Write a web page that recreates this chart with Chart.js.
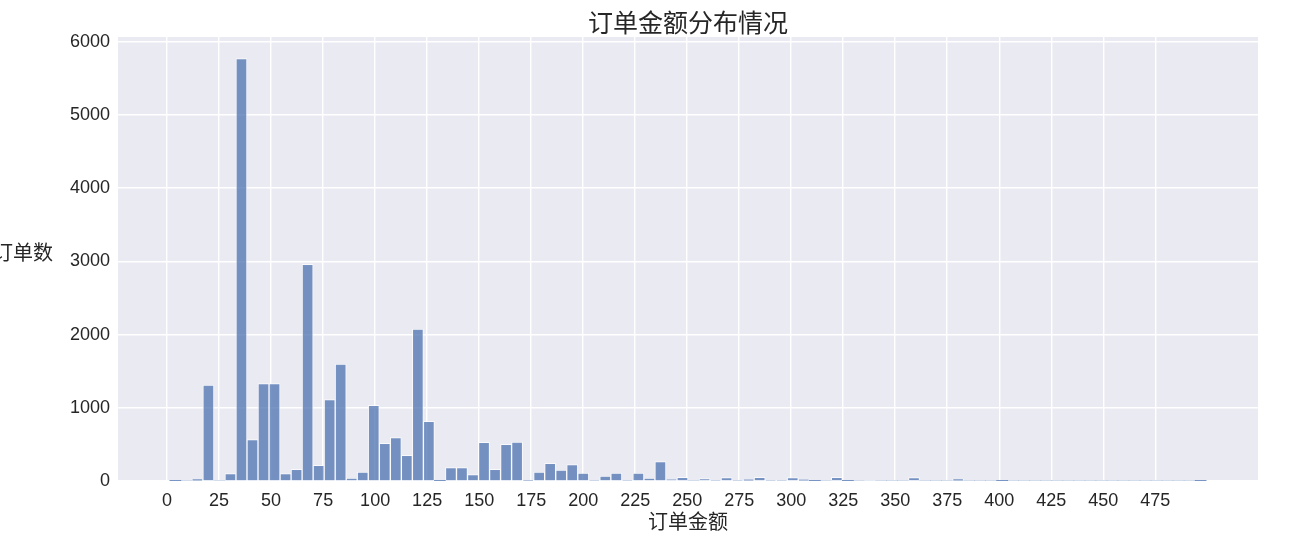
<!DOCTYPE html>
<html>
<head>
<meta charset="utf-8">
<script src="https://cdn.jsdelivr.net/npm/chart.js@4.4.0/dist/chart.umd.min.js"></script>
<style>
  html, body { margin: 0; padding: 0; background: #fff; }
  #wrap { width: 1289px; height: 555px; position: relative; }
</style>
</head>
<body>
<div id="wrap"><canvas id="histChart"></canvas></div>
<script>
// histogram bins: first edge and width of each bin (order amount)
const binStart = 1.3;
const binWidth = 5.3;
// order counts per bin
const binCounts = [
  1, 0, 27, 1309, 0, 101, 5770, 566, 1332, 1332,
  101, 160, 2959, 215, 1113, 1596, 40, 123, 1035, 515,
  593, 351, 2074, 816, 3, 183, 183, 87, 529, 160,
  502, 533, 5, 121, 242, 150, 224, 109, 8, 68,
  109, 8, 109, 41, 265, 23, 50, 0, 32, 8,
  46, 8, 22, 50, 8, 8, 46, 20, 3, 0,
  50, 2, 0, 12, 0, 0, 0, 46, 0, 0,
  0, 27, 0, 0, 0, 3, 0, 0, 0, 0,
  0, 0, 0, 0, 0, 0, 0, 0, 0, 0,
  0, 0, 0, 1
];
const xTickValues = [0, 25, 50, 75, 100, 125, 150, 175, 200, 225, 250, 275, 300, 325, 350, 375, 400, 425, 450, 475];
const yTickValues = [0, 1000, 2000, 3000, 4000, 5000, 6000];

const titleText = '订单金额分布情况';
const xLabel = '订单金额';
const yLabel = '订单数';

const latinFont = "'Liberation Sans', 'Noto Sans CJK SC', sans-serif";
const cjkFont = "'Noto Sans CJK SC', 'Liberation Sans', sans-serif";

const points = binCounts.map((c, i) => ({ x: binStart + binWidth * (i + 0.5), y: c }));
const binEnd = binStart + binWidth * binCounts.length;
const margin = (binEnd - binStart) * 0.05;

// draws the plot background, the title and the horizontal y label
const extrasPlugin = {
    id: 'extras',
    beforeDraw(chart) {
        const { ctx, chartArea: a } = chart;
        ctx.save();
        ctx.fillStyle = '#EAEAF2';
        ctx.fillRect(a.left, a.top, a.right - a.left, a.bottom - a.top);
        ctx.restore();
    },
    afterDraw(chart) {
        const { ctx, chartArea: a } = chart;
        ctx.save();
        ctx.fillStyle = '#262626';
        ctx.font = '25px ' + cjkFont;
        ctx.textAlign = 'center';
        ctx.textBaseline = 'middle';
        ctx.fillText(titleText, (a.left + a.right) / 2, 22);

        ctx.font = '20px ' + cjkFont;
        ctx.textAlign = 'right';
        ctx.fillText(yLabel, 53, 252);
        ctx.restore();
    }
};

const ctx = document.getElementById('histChart').getContext('2d');
const histChart = new Chart(ctx, {
    type: 'bar',
    data: {
        datasets: [{
            data: points,
            backgroundColor: 'rgba(76, 114, 176, 0.75)',
            borderColor: 'rgba(255, 255, 255, 0.7)',
            borderWidth: c => (c.raw && c.raw.y >= 5 ? 1 : 0),
            barPercentage: 1,
            categoryPercentage: 1
        }]
    },
    options: {
        responsive: true,
        maintainAspectRatio: false,
        animation: false,
        layout: {
            padding: { top: 37, left: 0, right: 31, bottom: 0 }
        },
        scales: {
            x: {
                type: 'linear',
                offset: false,
                min: binStart - margin,
                max: binEnd + margin,
                afterBuildTicks: scale => {
                    scale.ticks = xTickValues.map(v => ({ value: v }));
                },
                afterFit: scale => { scale.height = 74; },
                grid: {
                    offset: false,
                    color: '#ffffff',
                    lineWidth: 1.4,
                    drawTicks: false
                },
                border: { display: false },
                ticks: {
                    autoSkip: false,
                    maxRotation: 0,
                    padding: 9,
                    color: '#262626',
                    font: { family: latinFont, size: 18 }
                },
                title: {
                    display: true,
                    text: xLabel,
                    color: '#262626',
                    font: { family: cjkFont, size: 20 },
                    padding: { top: 0, bottom: 22 }
                }
            },
            y: {
                min: 0,
                max: 6065,
                afterBuildTicks: scale => {
                    scale.ticks = yTickValues.map(v => ({ value: v }));
                },
                afterFit: scale => { scale.width = 118; },
                grid: {
                    color: '#ffffff',
                    lineWidth: 1.4,
                    drawTicks: false
                },
                border: { display: false },
                ticks: {
                    padding: 8,
                    color: '#262626',
                    font: { family: latinFont, size: 18 },
                    callback: v => String(v)
                }
            }
        },
        plugins: {
            legend: { display: false },
            tooltip: { enabled: false }
        }
    },
    plugins: [extrasPlugin]
});
</script>
</body>
</html>
